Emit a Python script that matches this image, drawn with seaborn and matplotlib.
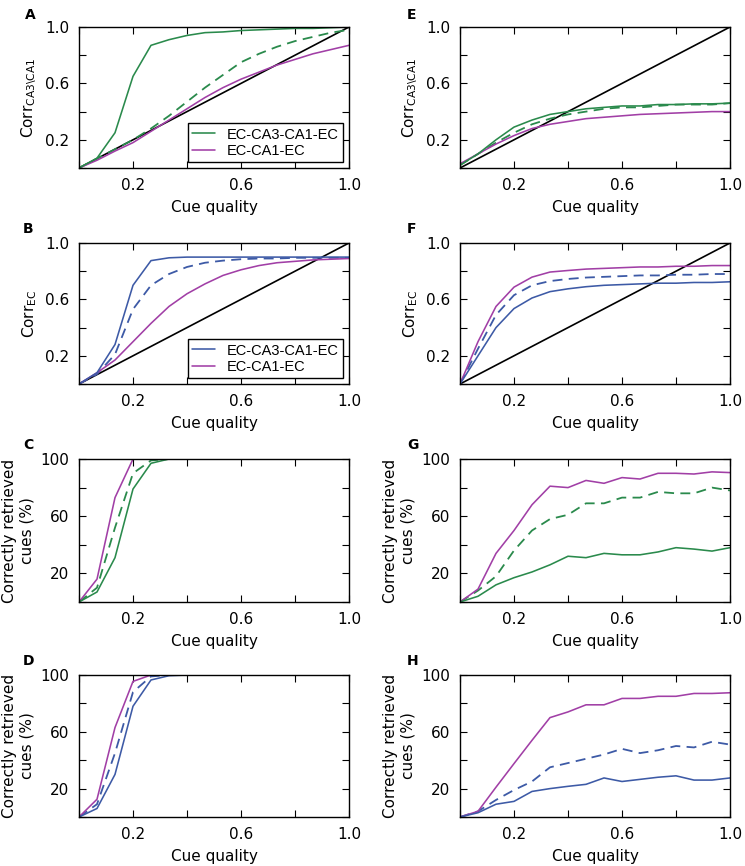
import numpy as np
import seaborn as sns
import matplotlib.pyplot as plt

# cue quality grid (16 points)
cue = [i / 15 for i in range(16)]
diag = list(cue)

# A: Corr CA3\CA1, network with CA3 (green)
a_ca3 = [0, 0.07, 0.25, 0.65, 0.87, 0.91, 0.94, 0.96, 0.965, 0.975, 0.98, 0.985, 0.99, 0.99, 0.995, 1.0]
a_ca3_dash = [0, 0.067, 0.133, 0.2, 0.28, 0.37, 0.47, 0.57, 0.66, 0.75, 0.81, 0.86, 0.90, 0.93, 0.96, 0.98]
a_ca1 = [0, 0.055, 0.12, 0.18, 0.26, 0.34, 0.42, 0.50, 0.57, 0.63, 0.68, 0.73, 0.77, 0.81, 0.84, 0.87]

# E
e_ca3 = [0.02, 0.10, 0.20, 0.29, 0.34, 0.38, 0.40, 0.42, 0.43, 0.44, 0.44, 0.45, 0.45, 0.455, 0.455, 0.46]
e_ca3_dash = [0.02, 0.10, 0.18, 0.25, 0.31, 0.35, 0.38, 0.40, 0.42, 0.43, 0.43, 0.44, 0.45, 0.45, 0.45, 0.46]
e_ca1 = [0.03, 0.10, 0.17, 0.23, 0.28, 0.31, 0.33, 0.35, 0.36, 0.37, 0.38, 0.385, 0.39, 0.395, 0.40, 0.40]

# B: Corr EC
b_ca3 = [0, 0.08, 0.28, 0.70, 0.875, 0.895, 0.9, 0.9, 0.9, 0.9, 0.9, 0.9, 0.9, 0.9, 0.9, 0.9]
b_ca3_dash = [0, 0.07, 0.21, 0.53, 0.70, 0.78, 0.83, 0.86, 0.875, 0.885, 0.89, 0.89, 0.895, 0.895, 0.895, 0.895]
b_ca1 = [0, 0.08, 0.17, 0.30, 0.43, 0.55, 0.64, 0.71, 0.77, 0.81, 0.84, 0.86, 0.87, 0.88, 0.885, 0.89]

# F
f_ca3 = [0, 0.20, 0.40, 0.535, 0.61, 0.655, 0.675, 0.69, 0.70, 0.705, 0.71, 0.715, 0.715, 0.72, 0.72, 0.725]
f_ca3_dash = [0, 0.25, 0.49, 0.63, 0.70, 0.73, 0.745, 0.755, 0.76, 0.765, 0.77, 0.77, 0.775, 0.775, 0.78, 0.78]
f_ca1 = [0, 0.30, 0.55, 0.687, 0.758, 0.794, 0.805, 0.815, 0.82, 0.825, 0.83, 0.83, 0.835, 0.835, 0.84, 0.84]

# C: correctly retrieved cues (%)
c_ca3 = [0, 7, 31, 79, 97, 100, 100, 100, 100, 100, 100, 100, 100, 100, 100, 100]
c_ca3_dash = [0, 10, 52, 90, 99, 100, 100, 100, 100, 100, 100, 100, 100, 100, 100, 100]
c_ca1 = [0, 16, 73, 100, 100, 100, 100, 100, 100, 100, 100, 100, 100, 100, 100, 100]

# G
g_ca3 = [0, 4, 12, 17, 21, 26, 32, 31, 34, 33, 33, 35, 38, 37, 35.6, 38]
g_ca3_dash = [0, 8, 18, 36, 50, 58, 61, 69, 69, 73, 73, 77, 76, 76, 80, 78]
g_ca1 = [0, 9, 34, 50, 68, 81, 80, 85, 83, 87, 86, 90, 90, 89.5, 91, 90.5]

# D
d_ca3 = [0, 6, 30, 78, 96.5, 99.5, 100, 100, 100, 100, 100, 100, 100, 100, 100, 100]
d_ca3_dash = [0, 9, 45, 88, 99, 100, 100, 100, 100, 100, 100, 100, 100, 100, 100, 100]
d_ca1 = [0, 12.5, 63, 95.5, 100, 100, 100, 100, 100, 100, 100, 100, 100, 100, 100, 100]

# H
h_ca3 = [0, 3, 9, 11, 18, 20, 21.6, 23, 27.5, 25, 26.5, 28, 29, 26, 26, 27.5]
h_ca3_dash = [0, 4, 12, 19, 25, 35, 38, 41, 44, 48, 45, 47, 50, 49, 53, 51]
h_ca1 = [0, 4, 21, 37.6, 54, 70, 74, 79, 79, 83.5, 83.5, 85, 85, 87, 87, 87.5]

GREEN = '#2a8a4c'
BLUE = '#3d5aa6'
PURPLE = '#a13fa6'

sns.set_style("ticks")
plt.rcParams['font.family'] = ['DejaVu Sans']
plt.rcParams['axes.linewidth'] = 1.0
for k in ['text.color', 'axes.labelcolor', 'xtick.color', 'ytick.color', 'axes.edgecolor']:
    plt.rcParams[k] = 'black'

W, H = 745, 866
fig = plt.figure(figsize=(W / 100, H / 100), dpi=100)

cols = [(79, 349), (460, 730)]
rows = [(27, 168), (243, 384), (459, 602), (675, 817)]


def make_ax(col, row):
    x0, x1 = cols[col]
    y0, y1 = rows[row]
    return fig.add_axes([x0 / W, 1 - y1 / H, (x1 - x0) / W, (y1 - y0) / H])


def style(ax, pct, ylabel):
    ax.set_xlim(0, 1)
    ax.set_xticks([0, 0.2, 0.4, 0.6, 0.8, 1.0])
    ax.set_xticklabels(['', '0.2', '', '0.6', '', '1.0'])
    if pct:
        ax.set_ylim(0, 100)
        ax.set_yticks([0, 20, 40, 60, 80, 100])
        ax.set_yticklabels(['', '20', '', '60', '', '100'])
    else:
        ax.set_ylim(0, 1)
        ax.set_yticks([0, 0.2, 0.4, 0.6, 0.8, 1.0])
        ax.set_yticklabels(['', '0.2', '', '0.6', '', '1.0'])
    ax.tick_params(direction='in', length=5, width=0.8, top=True, right=True,
                   labelsize=11, pad=7, colors='black')
    for s in ax.spines.values():
        s.set_visible(True)
        s.set_color('black')
    ax.set_xlabel('Cue quality', fontsize=11, labelpad=5)
    ax.set_ylabel(ylabel, fontsize=11, labelpad=4)


def panel(ax, solid, dashed, ca1, color, pct, ylabel, legend=False, diagonal=True):
    if diagonal:
        sns.lineplot(x=cue, y=diag, ax=ax, color='black', lw=1.2)
    sns.lineplot(x=cue, y=dashed, ax=ax, color=color, lw=1.3, linestyle=(0, (5.5, 3.5)))
    sns.lineplot(x=cue, y=ca1, ax=ax, color=PURPLE, lw=1.15,
                 label='EC-CA1-EC' if legend else None)
    sns.lineplot(x=cue, y=solid, ax=ax, color=color, lw=1.15,
                 label='EC-CA3-CA1-EC' if legend else None)
    style(ax, pct, ylabel)
    if legend:
        h, l = ax.get_legend_handles_labels()
        leg = ax.legend(h[::-1], l[::-1], loc='lower right', fancybox=False,
                        frameon=True, edgecolor='black', framealpha=1,
                        handlelength=1.6, handletextpad=0.8, borderpad=0.3,
                        labelspacing=0.15, borderaxespad=0.4,
                        prop={'family': 'Liberation Sans', 'size': 10.5})
        leg.get_frame().set_linewidth(1.0)
    elif ax.get_legend() is not None:
        ax.get_legend().remove()


corr_ca = r'Corr$_{\mathrm{CA3\backslash CA1}}$'
corr_ec = r'Corr$_{\mathrm{EC}}$'
cues_lbl = 'Correctly retrieved\ncues (%)'

axA = make_ax(0, 0)
panel(axA, a_ca3, a_ca3_dash, a_ca1, GREEN, False, corr_ca, legend=True)
axE = make_ax(1, 0)
panel(axE, e_ca3, e_ca3_dash, e_ca1, GREEN, False, corr_ca)
axB = make_ax(0, 1)
panel(axB, b_ca3, b_ca3_dash, b_ca1, BLUE, False, corr_ec, legend=True)
axF = make_ax(1, 1)
panel(axF, f_ca3, f_ca3_dash, f_ca1, BLUE, False, corr_ec)
axC = make_ax(0, 2)
panel(axC, c_ca3, c_ca3_dash, c_ca1, GREEN, True, cues_lbl, diagonal=False)
axG = make_ax(1, 2)
panel(axG, g_ca3, g_ca3_dash, g_ca1, GREEN, True, cues_lbl, diagonal=False)
axD = make_ax(0, 3)
panel(axD, d_ca3, d_ca3_dash, d_ca1, BLUE, True, cues_lbl, diagonal=False)
axH = make_ax(1, 3)
panel(axH, h_ca3, h_ca3_dash, h_ca1, BLUE, True, cues_lbl, diagonal=False)

# panel letters
letters = [('A', 25, 8), ('E', 27, 8), ('B', 23, 222), ('F', 27, 222),
           ('C', 23, 438), ('G', 27, 438), ('D', 23, 654), ('H', 27, 654)]
for t, x, y in letters:
    xo = 0 if t in 'ABCD' else 380
    fig.text((xo + x) / W, 1 - y / H, t, fontsize=10, fontweight='bold', va='top', ha='left')

fig.savefig('out.png', dpi=100)
